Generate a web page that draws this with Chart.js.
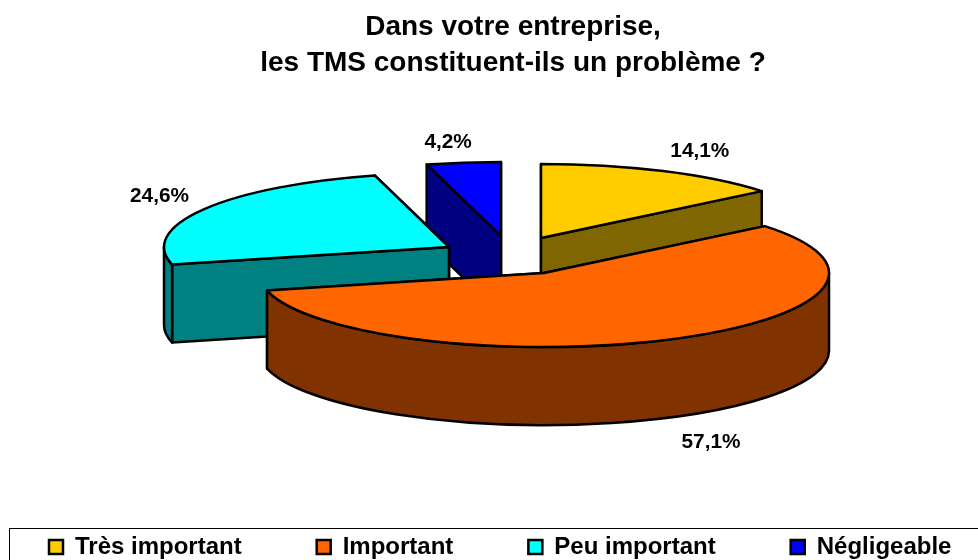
<!DOCTYPE html>
<html lang="fr">
<head>
<meta charset="utf-8">
<title>TMS</title>
<script src="https://cdn.jsdelivr.net/npm/chart.js@4/dist/chart.umd.min.js"></script>
<style>
  body { margin: 0; background: #fff; }
  canvas { display: block; }
</style>
</head>
<body>
<canvas id="graficoTMS" width="978" height="560"></canvas>
<script>
// Données
const categories = ["Très important", "Important", "Peu important", "Négligeable"];
const valeurs = [14.1, 57.1, 24.6, 4.2];
const titre = ["Dans votre entreprise,", "les TMS constituent-ils un problème ?"];

// Couleurs : dessus et flanc de chaque part
const couleurs = ["#FFCC00", "#FF6600", "#00FFFF", "#0000FF"];
const flancs = ["#806600", "#803300", "#008080", "#000080"];

// Réglages de la perspective
const rayon = 285;
const aplat = 0.26;
const epaisseur = 78;
const eclate = [[-3, -35], [0, 0], [-95, -26], [-43, -37]];
const ordreDessin = [3, 0, 2, 1];
const rayonEtiquette = [[1.3, 1.3], [1.315, 1.37], [1.18, 1.35], [1.41, 1.27]];
const policeArial = "'Liberation Sans', Arial, sans-serif";

const pie3d = {
  id: "pie3d",
  afterLayout(chart) {
    // Position du titre, de la légende et du centre du camembert
    chart.chartArea = { left: 104, right: 984, top: 100, bottom: 446, width: 880, height: 346 };
    const t = chart.titleBlock;
    t.left = 48; t.right = 978; t.top = 4; t.bottom = 90;
    const l = chart.legend;
    const pad = l.options.labels.padding;
    l.left = 49 - pad; l.right = 1400; l.width = 1400 - l.left;
    l.top = 535 - pad; l.bottom = 560; l.height = 560 - l.top;
  },
  beforeDatasetsDraw(chart) {
    const ctx = chart.ctx;
    const arcs = chart.getDatasetMeta(0).data;
    ctx.save();
    ctx.lineWidth = 2.5;
    ctx.lineJoin = "round";
    ctx.strokeStyle = "#000";
    ordreDessin.forEach(i => {
      const arc = arcs[i];
      const cx = arc.x + eclate[i][0];
      const cy = arc.y + eclate[i][1];
      const rx = arc.outerRadius;
      const ry = rx * aplat;
      const bords = [arc.startAngle, arc.endAngle]
        .map(a => ({ x: cx + rx * Math.cos(a), y: cy + ry * Math.sin(a) }))
        .sort((a, b) => a.y - b.y);

      // Flancs droits, le plus proche en dernier
      ctx.fillStyle = flancs[i];
      bords.forEach(p => {
        ctx.beginPath();
        ctx.moveTo(cx, cy);
        ctx.lineTo(p.x, p.y);
        ctx.lineTo(p.x, p.y + epaisseur);
        ctx.lineTo(cx, cy + epaisseur);
        ctx.closePath();
        ctx.fill();
        ctx.stroke();
      });

      // Flanc arrondi, seulement la moitié avant
      const a0 = Math.max(arc.startAngle, 0);
      const a1 = Math.min(arc.endAngle, Math.PI);
      if (a1 > a0) {
        ctx.beginPath();
        ctx.ellipse(cx, cy, rx, ry, 0, a0, a1);
        ctx.ellipse(cx, cy + epaisseur, rx, ry, 0, a1, a0, true);
        ctx.closePath();
        ctx.fill();
        ctx.stroke();
      }

      // Dessus de la part
      ctx.fillStyle = couleurs[i];
      ctx.beginPath();
      ctx.moveTo(cx, cy);
      ctx.ellipse(cx, cy, rx, ry, 0, arc.startAngle, arc.endAngle);
      ctx.closePath();
      ctx.fill();
      ctx.stroke();
    });

    // Étiquettes en pourcentage
    ctx.fillStyle = "#000";
    ctx.font = "bold 20.8px " + policeArial;
    ctx.textAlign = "center";
    ctx.textBaseline = "middle";
    arcs.forEach((arc, i) => {
      const mid = (arc.startAngle + arc.endAngle) / 2;
      const [kx, ky] = rayonEtiquette[i];
      const x = arc.x + eclate[i][0] + arc.outerRadius * kx * Math.cos(mid);
      let y = arc.y + eclate[i][1] + arc.outerRadius * aplat * ky * Math.sin(mid);
      if (Math.sin(mid) > 0) y += epaisseur;
      ctx.fillText(valeurs[i].toFixed(1).replace(".", ",") + "%", x, y);
    });
    ctx.restore();
    return false;
  },
  afterDraw(chart) {
    // Cadre de la légende
    const ctx = chart.ctx;
    ctx.save();
    ctx.strokeStyle = "#000";
    ctx.lineWidth = 1;
    ctx.strokeRect(9.5, 528.5, 1000, 60);
    ctx.restore();
  }
};

new Chart(document.getElementById("graficoTMS"), {
  type: "pie",
  data: {
    labels: categories,
    datasets: [{
      data: valeurs,
      backgroundColor: couleurs,
      borderColor: "#000",
      borderWidth: 2.5
    }]
  },
  options: {
    responsive: false,
    animation: false,
    radius: rayon,
    plugins: {
      tooltip: { enabled: false },
      title: {
        display: true,
        text: titre,
        color: "#000",
        font: { family: policeArial, size: 28, weight: "bold", lineHeight: 1.286 },
        padding: { top: 5, bottom: 4 }
      },
      legend: {
        position: "bottom",
        align: "start",
        labels: {
          color: "#000",
          boxWidth: 14,
          boxHeight: 14,
          padding: 75,
          font: { family: policeArial, size: 24, weight: "bold" }
        }
      }
    }
  },
  plugins: [pie3d]
});
</script>
</body>
</html>
